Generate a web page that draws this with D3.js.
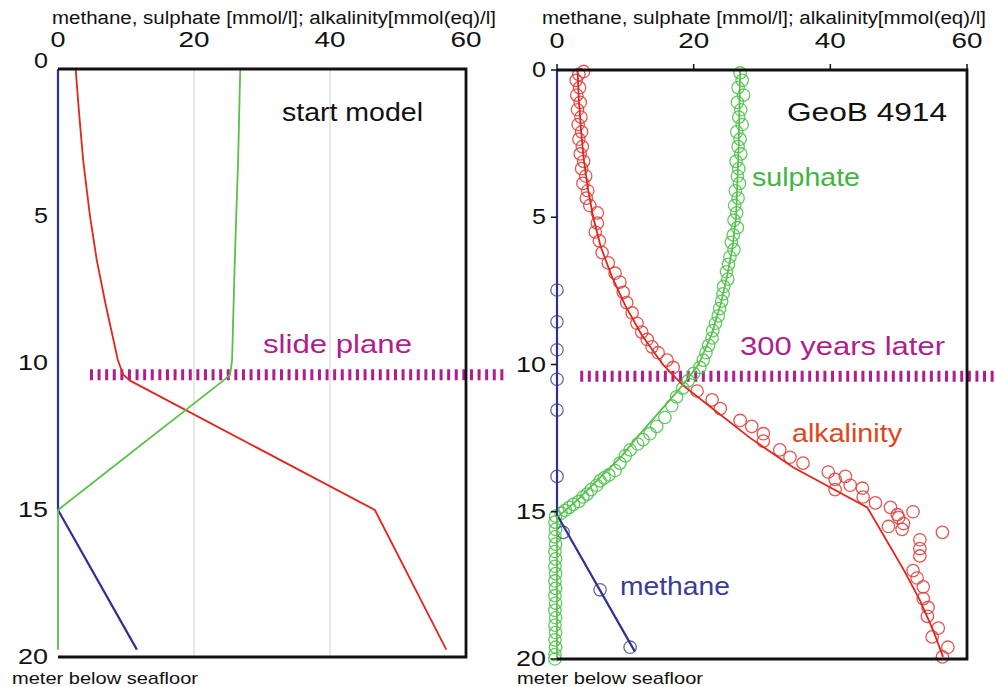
<!DOCTYPE html>
<html><head><meta charset="utf-8">
<script src="https://cdn.jsdelivr.net/npm/d3@7/dist/d3.min.js"></script>
<style>body{margin:0;background:#fff}svg{display:block}</style>
</head><body>
<svg id="chart" width="995" height="687"></svg>
<script>
// ---------- data ----------
const valueTicks = [0, 20, 40, 60];
const depthTicks = [0, 5, 10, 15, 20];
const axisTitle = "methane, sulphate [mmol/l]; alkalinity[mmol(eq)/l]";
const depthTitle = "meter below seafloor";
const slideDepth = 10.4;

// start model (depth m, value)
const startAlk = [[0,2.6],[1.5,3.1],[3.1,3.7],[5,4.7],[6.5,5.7],[8,7.0],[9.9,8.8],[10.4,9.6],[10.6,10.6],[15,46.6],[19.75,57.1]];
const startSul = [[0,26.8],[3,26.5],[6.5,26.0],[9.9,25.6],[10.4,25.3],[10.6,24.3],[15,0],[19.75,0]];
const startMeth = [[0,0],[15,0],[19.75,11.6]];

// GeoB 4914 model (300 years later)
const laterAlk = [[0,3.0],[1,3.2],[2,3.5],[3,3.9],[4,4.5],[5,5.3],[6,6.4],[7,8.0],[8,10.0],[9,12.4],[10,15.5],[10.7,18.4],[11.5,22.8],[12.5,28.3],[13.5,34.6],[14.85,45.4],[16,48.3],[17,50.8],[18,53.1],[19,55.0],[19.93,56.5]];
const laterSul = [[0,26.8],[2.5,26.6],[5,26.2],[6,25.7],[7,24.9],[8,23.9],[9,22.6],[10,20.7],[10.7,18.4],[11.5,15.4],[12.5,11.6],[13.1,9.5],[14,5.6],[14.6,3.0],[15.2,0],[20,0]];
const laterMeth = [[0,0],[15.1,0],[19.75,11.4]];

// GeoB 4914 measurements
const obsAlk = [[0.05,3.9],[0.15,3.2],[0.35,2.8],[0.6,3.3],[0.85,2.9],[1.1,3.4],[1.35,3.0],[1.6,3.5],[1.85,3.1],[2.1,3.6],[2.35,3.2],[2.6,3.7],[2.85,3.4],[3.1,3.9],[3.35,3.6],[3.6,4.2],[3.85,3.8],[4.1,4.5],[4.35,4.3],[4.6,4.8],[4.85,5.9],[5.2,5.9],[5.5,5.6],[5.8,6.2],[6.2,6.6],[6.55,7.5],[6.9,8.5],[7.2,9.2],[7.55,9.7],[7.9,10.2],[8.25,11.0],[8.6,11.7],[8.9,12.4],[9.15,13.2],[9.4,13.9],[9.6,14.8],[9.85,16.1],[10.1,17.0],[10.9,20.5],[11.2,22.7],[11.5,23.9],[11.9,26.8],[12.1,28.5],[12.35,30.2],[12.6,30.2],[12.9,32.6],[13.15,34.1],[13.35,36.0],[13.65,39.7],[13.9,40.7],[13.8,42.2],[14.1,42.9],[14.25,40.7],[14.2,44.7],[14.5,44.8],[14.7,46.6],[14.85,48.8],[15.0,52.1],[15.1,49.8],[15.2,50.0],[15.4,50.7],[15.5,48.5],[15.6,50.5],[15.7,56.4],[15.95,53.1],[16.25,53.1],[16.5,53.1],[17.0,52.1],[17.25,52.7],[17.55,53.6],[17.95,53.6],[18.25,54.3],[18.55,54.2],[18.95,55.8],[19.25,54.9],[19.6,57.2],[19.93,56.4]];
const obsSul = [[0.1,26.8],[0.35,27.1],[0.6,26.5],[0.85,27.3],[1.1,26.4],[1.35,26.9],[1.6,26.6],[1.85,27.1],[2.1,26.3],[2.35,26.8],[2.6,26.5],[2.85,26.9],[3.1,26.2],[3.35,26.6],[3.6,26.4],[3.85,26.7],[4.1,26.1],[4.35,26.5],[4.6,26.0],[4.85,26.3],[5.1,25.9],[5.35,26.4],[5.6,25.8],[5.85,25.5],[6.1,25.9],[6.35,25.3],[6.6,25.1],[6.85,24.8],[7.1,25.0],[7.35,24.4],[7.6,24.3],[7.85,24.1],[8.1,23.8],[8.35,23.6],[8.6,23.2],[8.85,22.8],[9.1,22.7],[9.35,22.2],[9.6,21.8],[9.85,21.4],[10.1,20.9],[10.3,20.0],[10.55,19.2],[10.8,18.4],[11.1,17.5],[11.4,16.8],[11.8,15.8],[12.1,14.6],[12.35,13.6],[12.55,12.6],[12.7,11.8],[12.9,10.7],[13.1,10.0],[13.35,9.2],[13.6,8.5],[13.75,7.6],[13.85,6.9],[13.95,6.3],[14.1,5.8],[14.25,5.0],[14.4,4.4],[14.5,3.8],[14.65,3.2],[14.75,2.4],[14.85,1.8],[14.95,1.2],[15.05,0.6],[15.15,-0.2],[15.35,-0.3],[15.6,-0.2],[15.85,-0.3],[16.1,-0.2],[16.35,-0.3],[16.6,-0.2],[16.85,-0.3],[17.1,-0.2],[17.35,-0.3],[17.6,-0.2],[17.85,-0.3],[18.1,-0.2],[18.35,-0.3],[18.6,-0.2],[18.85,-0.3],[19.1,-0.2],[19.35,-0.3],[19.6,-0.2],[19.85,-0.3],[20.0,-0.3]];
const obsMeth = [[7.47,0],[8.55,0],[9.5,0],[10.5,0],[11.55,0],[13.8,0],[15.7,0.9],[17.65,6.3],[19.6,10.7]];

// ---------- styles ----------
const FONT = "'Liberation Sans', Arial, Helvetica, sans-serif";
const C = {
  alk: "#e2261c", sul: "#5bbf4a", meth: "#2e3192",
  alkObs: "#e0443e", sulObs: "#4fc44f", methObs: "#55559f",
  slide: "#b01e8e", grid: "#d0d0d0", ink: "#111"
};

const svg = d3.select("#chart");

function txt(g, x, y, s, o) {
  const t = g.append("text").attr("x", x).attr("y", y).text(s)
    .attr("font-family", FONT).attr("font-size", o.size)
    .attr("fill", o.color || C.ink)
    .attr("text-anchor", o.anchor || "start");
  if (o.len) t.attr("textLength", o.len).attr("lengthAdjust", "spacingAndGlyphs");
  return t;
}

function drawPanel(cfg) {
  const g = svg.append("g");
  const x = d3.scaleLinear().domain([0, 60]).range([cfg.x0, cfg.x1]);
  const y = d3.scaleLinear().domain([0, 20]).range([cfg.y0, cfg.y1]);
  const line = d3.line().x(d => x(d[1])).y(d => y(d[0]));

  if (cfg.grid) {
    g.selectAll(".grid").data(valueTicks.filter(v => v > 0 && v < 60)).join("line")
      .attr("x1", d => x(d)).attr("x2", d => x(d))
      .attr("y1", y(0)).attr("y2", y(20))
      .attr("stroke", C.grid).attr("stroke-width", 1);
  }

  g.append("line")
    .attr("x1", x(cfg.slideFrom)).attr("x2", x(cfg.slideTo))
    .attr("y1", y(slideDepth)).attr("y2", y(slideDepth))
    .attr("stroke", C.slide).attr("stroke-width", 11)
    .attr("stroke-dasharray", "3,4.6");

  if (cfg.obs) {
    const circ = (data, col) => g.append("g").selectAll("circle").data(data).join("circle")
      .attr("cx", d => x(d[1])).attr("cy", d => y(d[0])).attr("r", 6.2)
      .attr("fill", "none").attr("stroke", col).attr("stroke-width", 1.3)
      .attr("stroke-opacity", 0.9);
    circ(cfg.obs.sul, C.sulObs);
    circ(cfg.obs.alk, C.alkObs);
    circ(cfg.obs.meth, C.methObs);
  }

  g.append("path").datum(cfg.alk).attr("d", line).attr("fill", "none").attr("stroke", C.alk).attr("stroke-width", 1.8);
  g.append("path").datum(cfg.meth).attr("d", line).attr("fill", "none").attr("stroke", C.meth).attr("stroke-width", 2.2);
  g.append("path").datum(cfg.sul).attr("d", line).attr("fill", "none").attr("stroke", C.sul).attr("stroke-width", 1.8);

  g.append("path")
    .attr("d", `M${x(0)},${y(0)}H${x(60)}V${y(20)}H${x(0)}`)
    .attr("fill", "none").attr("stroke", C.ink).attr("stroke-width", 2.8)
    .attr("stroke-linejoin", "miter");

  if (cfg.ticks) {
    g.selectAll(".tx").data(valueTicks).join("line")
      .attr("x1", d => x(d)).attr("x2", d => x(d))
      .attr("y1", y(0)).attr("y2", y(0) - 6)
      .attr("stroke", C.ink).attr("stroke-width", 1.5);
    g.selectAll(".ty").data(depthTicks).join("line")
      .attr("x1", x(0)).attr("x2", x(0) - 6)
      .attr("y1", d => y(d)).attr("y2", d => y(d))
      .attr("stroke", C.ink).attr("stroke-width", 1.5);
  }

  valueTicks.forEach(v => {
    txt(g, x(v), cfg.y0 - 22, String(v), {size: 22, anchor: "middle", len: v === 0 ? 15 : 31});
  });
  depthTicks.forEach(d => {
    const dy = d === 0 ? cfg.zeroDy : 0;
    txt(g, x(0) - cfg.labelGap, y(d) + 7 + dy, String(d), {size: 22, anchor: "end", len: d < 10 ? 14 : 30});
  });

  txt(g, cfg.titleX, 24, axisTitle, {size: 18, len: 444});
  txt(g, cfg.depthX, 684, depthTitle, {size: 17, len: 186});

  cfg.labels.forEach(l => txt(g, l.x, l.y, l.text, {size: l.size, color: l.color, len: l.len}));
}

drawPanel({
  x0: 58, x1: 466, y0: 69, y1: 657,
  grid: true, ticks: false, obs: null,
  alk: startAlk, sul: startSul, meth: startMeth,
  slideFrom: 4.7, slideTo: 65.7,
  labelGap: 10, zeroDy: -8,
  titleX: 52, depthX: 12,
  labels: [
    {text: "start model", x: 282, y: 121, size: 26, color: C.ink, len: 141},
    {text: "slide plane", x: 263, y: 353, size: 25, color: C.slide, len: 149}
  ]
});

drawPanel({
  x0: 557, x1: 967, y0: 70, y1: 659,
  grid: false, ticks: true,
  obs: {alk: obsAlk, sul: obsSul, meth: obsMeth},
  alk: laterAlk, sul: laterSul, meth: laterMeth,
  slideFrom: 3.4, slideTo: 64.1,
  labelGap: 11, zeroDy: 0,
  titleX: 542, depthX: 517,
  labels: [
    {text: "GeoB 4914", x: 787, y: 121, size: 26, color: C.ink, len: 160},
    {text: "sulphate", x: 752, y: 186, size: 25, color: "#3fb63f", len: 108},
    {text: "300 years later", x: 740, y: 355, size: 25, color: C.slide, len: 205},
    {text: "alkalinity", x: 792, y: 442, size: 25, color: "#e0461e", len: 110},
    {text: "methane", x: 620, y: 595, size: 25, color: "#3a3d96", len: 110}
  ]
});
</script>
</body></html>
